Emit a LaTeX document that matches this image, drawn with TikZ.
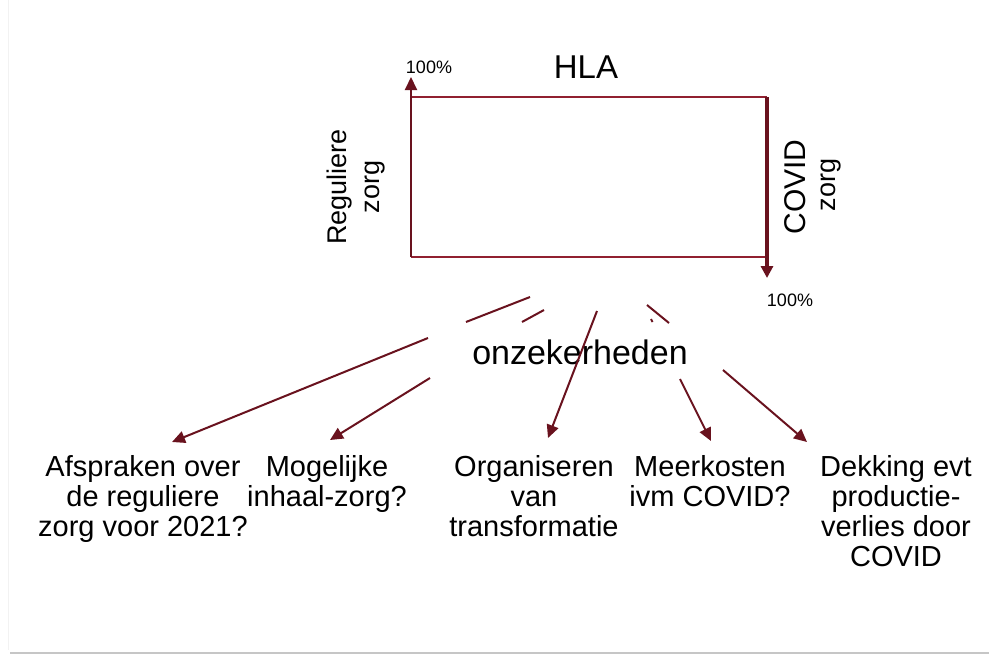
\documentclass[tikz,border=0pt]{standalone}
\usepackage{fontspec}
\setmainfont{Liberation Sans}
\usetikzlibrary{arrows.meta}
\definecolor{rectred}{RGB}{145,32,48}
\definecolor{arrred}{RGB}{105,18,30}
\tikzset{
  lbl/.style={inner sep=0pt, align=center, font=\fontsize{29}{30}\selectfont},
  small/.style={inner sep=0pt, font=\fontsize{18}{20}\selectfont},
  side/.style={inner sep=0pt, align=center, rotate=90, font=\fontsize{27}{33}\selectfont},
  frame/.style={draw=rectred, line width=2pt},
  con/.style={draw=arrred, line width=2pt},
  tip/.style={-{Triangle[length=13pt,width=12pt]}}
}
\begin{document}
\begin{tikzpicture}[x=1pt,y=-1pt]
\useasboundingbox (0,0) rectangle (989,654);
\fill[white] (0,0) rectangle (989,654);
\draw[gray!10, line width=1pt] (8,0) -- (8,650);
\draw[gray!45, line width=2pt] (10,652.5) -- (989,652.5);

% HLA rectangle
\coordinate (bl) at (411,257);
\coordinate (tl) at (411,97);
\coordinate (tr) at (767,97);
\coordinate (br) at (767,257);
\coordinate (tiptop) at (411,77);
\coordinate (tipbot) at (767,278);
\draw[frame] (tl) -- (tr);
\draw[frame] (bl) -- (br);
\draw[frame, draw=arrred, tip] (bl) -- (tiptop);
\draw[frame, draw=arrred, line width=3.5pt, -{Triangle[length=12pt,width=12pt]}] (tr) -- (tipbot);

\node[small] (p1) at (429,67) {100\%};
\node[inner sep=0pt, font=\fontsize{33}{36}\selectfont] (hla) at (586,67) {HLA};
\node[small] (p2) at (790,300) {100\%};
\node[side] (reg) at (356,187) {Reguliere\\zorg};
\node[inner sep=0pt, rotate=90, font=\fontsize{30}{33}\selectfont] (cov) at (795,187) {COVID};
\node[inner sep=0pt, rotate=90, font=\fontsize{27}{30}\selectfont] (cov2) at (831,185) {zorg};

\node[inner sep=0pt, font=\fontsize{34}{36}\selectfont] (onz) at (580,352) {onzekerheden};

% bottom labels
\node[lbl, anchor=north] (a1) at (143,455) {Afspraken over\\de reguliere\\zorg voor 2021?};
\node[lbl, anchor=north] (a2) at (327,455) {Mogelijke\\inhaal-zorg?};
\node[lbl, anchor=north] (a3) at (534,455) {Organiseren\\van\\transformatie};
\node[lbl, anchor=north] (a4) at (710,455) {Meerkosten\\ivm COVID?};
\node[lbl, anchor=north] (a5) at (896,455) {Dekking evt\\productie-\\verlies door\\COVID};

% connectors (broken lines)
\coordinate (s1) at (530,297); \coordinate (m1) at (466,322); \coordinate (n1) at (428,338); \coordinate (t1) at (172,442);
\coordinate (s2) at (544,310); \coordinate (m2) at (522,322); \coordinate (n2) at (430,378); \coordinate (t2) at (330,440);
\coordinate (s3) at (597,311); \coordinate (t3) at (548,438);
\coordinate (s4) at (651,319); \coordinate (m4) at (652.5,322); \coordinate (n4) at (680,379); \coordinate (t4) at (711,441);
\coordinate (s5) at (647,305); \coordinate (m5) at (669,323); \coordinate (n5) at (723,370); \coordinate (t5) at (807,442);

\draw[con] (s1) -- (m1);
\draw[con, tip] (n1) -- (t1);
\draw[con] (s2) -- (m2);
\draw[con, tip] (n2) -- (t2);
\draw[con, tip] (s3) -- (t3);
\draw[con] (s4) -- (m4);
\draw[con, tip] (n4) -- (t4);
\draw[con] (s5) -- (m5);
\draw[con, tip] (n5) -- (t5);
\end{tikzpicture}
\end{document}
